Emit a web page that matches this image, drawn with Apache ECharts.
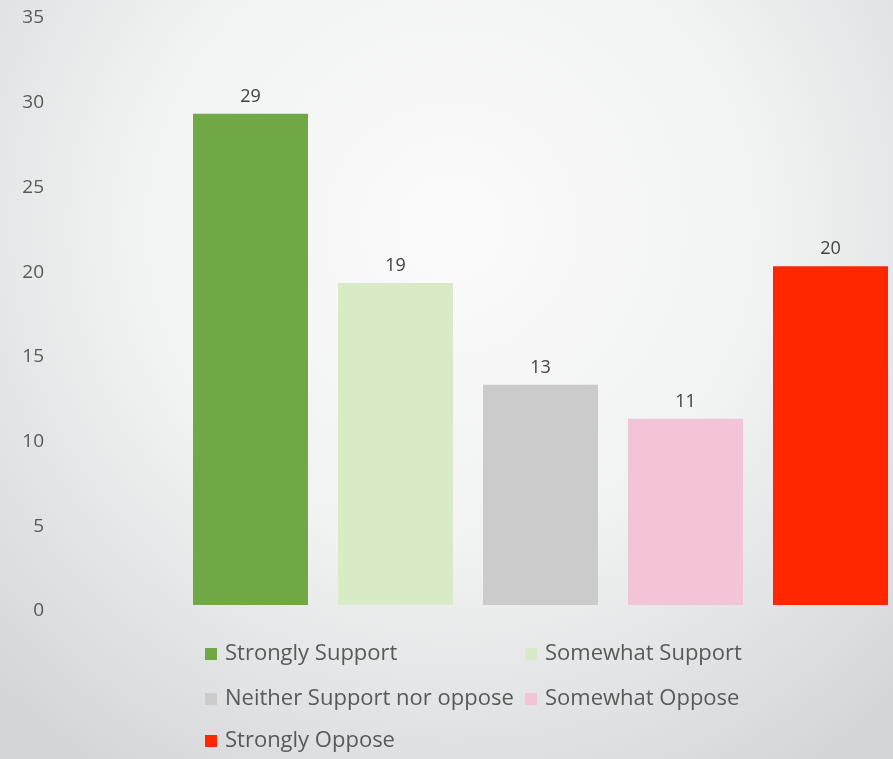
<!DOCTYPE html>
<html>
<head>
<meta charset="utf-8">
<script src="https://cdn.jsdelivr.net/npm/echarts@6/dist/echarts.min.js"></script>
<style>
html,body{margin:0;padding:0;overflow:hidden;width:893px;height:759px;}
#c{width:903px;height:759px;}
</style>
</head>
<body>
<div id="c"></div>
<script>
const categories = ['Strongly Support', 'Somewhat Support', 'Neither Support nor oppose', 'Somewhat Oppose', 'Strongly Oppose'];
const values = [29, 19, 13, 11, 20];
const colors = ['#70a845', '#d8eac6', '#cbcbcb', '#f3c3d8', '#ff2600'];
const yTicks = [0, 5, 10, 15, 20, 25, 30, 35];

const FONT = 'Open Sans';
const chart = echarts.init(document.getElementById('c'));

const series = categories.map((name, i) => ({
  name: name,
  type: 'bar',
  barWidth: 115,
  barGap: '-100%',
  itemStyle: { color: colors[i] },
  label: {
    show: true, position: 'top', distance: 8,
    color: '#404040', fontFamily: FONT, fontSize: 18,
    formatter: p => p.value == null ? '' : p.value
  },
  data: values.map((v, j) => j === i ? v : null)
}));

const legendPos = [
  { left: 200, top: 638 },
  { left: 520, top: 638 },
  { left: 200, top: 683 },
  { left: 520, top: 683 },
  { left: 200, top: 725 }
];

const option = {
  backgroundColor: {
    type: 'radial', x: 0.5, y: 0.3, r: 0.85,
    colorStops: [
      { offset: 0, color: '#fbfbfb' },
      { offset: 0.5, color: '#f1f2f2' },
      { offset: 1, color: '#d4d6d8' }
    ]
  },
  animation: false,
  grid: { left: 178, right: 0, top: 12, bottom: 154 },
  legend: categories.map((name, i) => ({
    data: [name],
    left: legendPos[i].left, top: legendPos[i].top,
    icon: 'rect', itemWidth: 12, itemHeight: 12, itemGap: 6,
    textStyle: { color: '#595959', fontFamily: FONT, fontSize: 22, padding: [0, 0, 0, 3] },
    selectedMode: false
  })),
  xAxis: {
    type: 'category', data: categories,
    axisLine: { show: false }, axisTick: { show: false }, axisLabel: { show: false }
  },
  yAxis: {
    type: 'value', min: 0, max: 35, interval: 5,
    axisLine: { show: false }, axisTick: { show: false },
    splitLine: { show: false },
    axisLabel: {
      margin: 134, color: '#595959', fontFamily: FONT, fontSize: 19,
      verticalAlign: 'top', lineHeight: 12,
      formatter: v => yTicks.includes(v) ? String(v) : ''
    }
  },
  series: series
};
chart.setOption(option);
</script>
</body>
</html>
